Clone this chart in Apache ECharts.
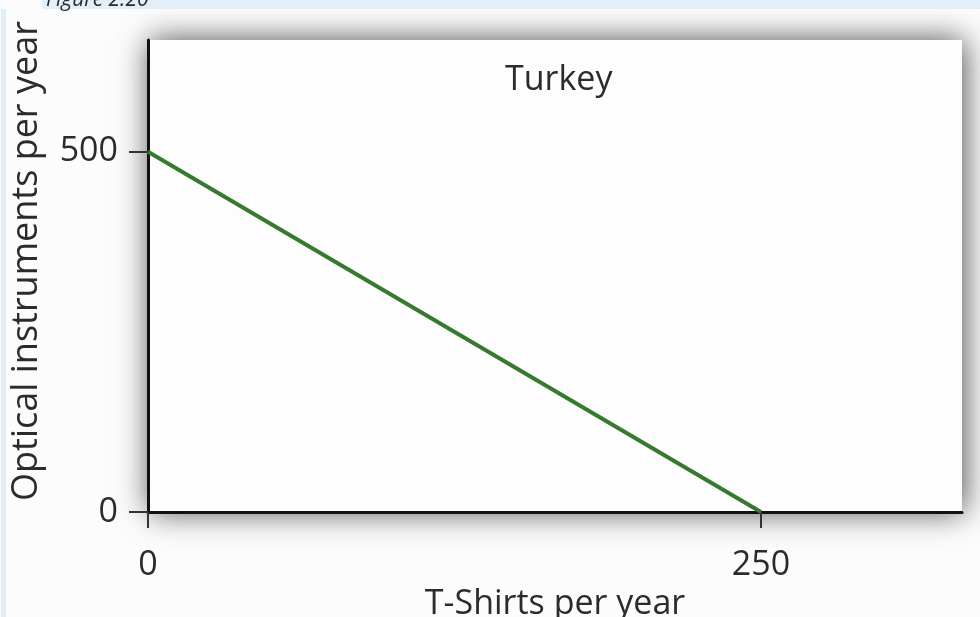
<!DOCTYPE html>
<html>
<head>
<meta charset="utf-8">
<script src="https://cdn.jsdelivr.net/npm/echarts@6/dist/echarts.min.js"></script>
<style>
html,body{margin:0;padding:0;background:#fcfcfc;}
#chart{width:980px;height:617px;}
</style>
</head>
<body>
<div id="chart"></div>
<script>
// Data
const tShirts = [0, 250];          // x values of the production possibilities line
const optical = [500, 0];          // y values
const xTickLabels = [0, 250];
const yTickLabels = [0, 500];
const chartTitle = 'Turkey';
const xName = 'T-Shirts per year';
const yName = 'Optical instruments per year';
const figureLabel = 'Figure 2.20';

const FONT = '"Open Sans", "Noto Sans", sans-serif';
const TXT = '#2b2b2b';
const chart = echarts.init(document.getElementById('chart'), null, {renderer: 'canvas'});

const lineData = tShirts.map((x, i) => [x, optical[i]]);

chart.setOption({
  backgroundColor: '#fcfcfc',
  animation: false,
  title: {
    text: chartTitle,
    left: 500,
    top: 58,
    textStyle: {fontFamily: FONT, fontSize: 34, fontWeight: 'normal', color: TXT}
  },
  graphic: [
    {type: 'rect', left: 42, top: 0, shape: {width: 938, height: 9}, style: {fill: '#e2eef8'}, silent: true},
    {type: 'rect', left: 1, top: 9, shape: {width: 5, height: 608}, style: {fill: '#e2eef8'}, silent: true},
    {type: 'text', left: 46, top: -10, style: {text: figureLabel, fontFamily: FONT, fontStyle: 'italic', fontSize: 21, fill: TXT}, silent: true}
  ],
  grid: {
    left: 148, right: 18, top: 40, bottom: 105,
    outerBoundsMode: 'none',
    containLabel: false,
    show: true,
    backgroundColor: '#fdfdfd',
    borderWidth: 0,
    shadowBlur: 30,
    shadowColor: 'rgba(0,0,0,0.7)',
    shadowOffsetX: 2,
    shadowOffsetY: 0
  },
  xAxis: {
    type: 'value',
    min: 0,
    max: 332,
    interval: 250,
    name: xName,
    nameLocation: 'middle',
    nameGap: 74,
    nameTextStyle: {fontFamily: FONT, fontSize: 34, color: TXT},
    axisLine: {show: true, lineStyle: {color: '#111', width: 3}},
    axisTick: {show: true, length: 16, lineStyle: {color: '#333', width: 2}, customValues: xTickLabels},
    axisLabel: {margin: 36, fontFamily: FONT, fontSize: 34, color: TXT, customValues: xTickLabels},
    splitLine: {show: false}
  },
  yAxis: {
    type: 'value',
    min: 0,
    max: 655,
    interval: 500,
    name: yName,
    nameLocation: 'middle',
    nameGap: 103,
    nameTextStyle: {fontFamily: FONT, fontSize: 36, color: TXT, padding: [0, 0, 0, 30]},
    axisLine: {show: true, lineStyle: {color: '#111', width: 3}},
    axisTick: {show: true, length: 19, lineStyle: {color: '#333', width: 2}, customValues: yTickLabels},
    axisLabel: {margin: 30, fontFamily: FONT, fontSize: 34, color: TXT, customValues: yTickLabels},
    splitLine: {show: false}
  },
  series: [{
    type: 'line',
    data: lineData,
    symbol: 'none',
    lineStyle: {color: '#357a2e', width: 4},
    z: 3
  }]
});
</script>
</body>
</html>
